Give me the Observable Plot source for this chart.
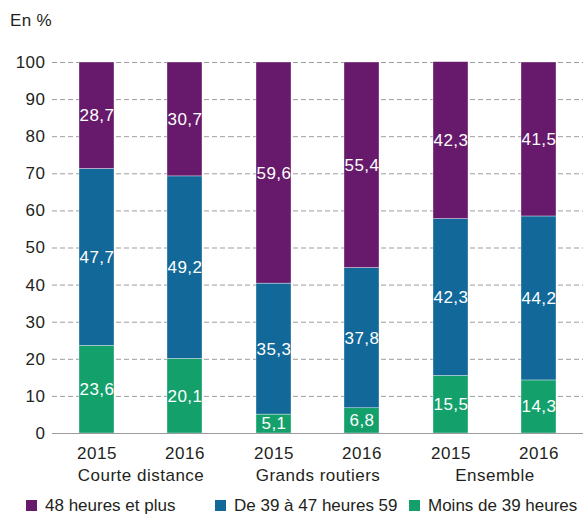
<!DOCTYPE html>
<html><head><meta charset="utf-8">
<script src="https://cdn.jsdelivr.net/npm/d3@7"></script>
<script src="https://cdn.jsdelivr.net/npm/@observablehq/plot@0.6"></script>
<style>
body{margin:0;background:#fff;font-family:"Liberation Sans",Arial,Helvetica,sans-serif;color:#231f20;}
#wrap{position:relative;width:583px;height:516px;overflow:hidden;background:#fff;}
#unit{position:absolute;left:10px;top:11px;font-size:17px;letter-spacing:0.3px;line-height:20px;}
#chart{position:absolute;left:0;top:0;}
#chart svg text{letter-spacing:0.5px;}
#legend{position:absolute;top:496px;left:0;width:583px;height:20px;font-size:17px;line-height:20px;}
.item{position:absolute;top:0;white-space:nowrap;}
.sw{position:absolute;top:4px;left:0;width:11px;height:11px;}
.lbl{position:absolute;top:0;white-space:nowrap;}
</style></head><body>
<div id="wrap"><div id="unit">En %</div><div id="chart"></div><div id="legend"></div></div>
<script>
// ---- data ----
const groups = ["Courte distance", "Grands routiers", "Ensemble"];
const years = ["2015", "2016"];
const series = ["Moins de 39 heures", "De 39 à 47 heures 59", "48 heures et plus"];
const colors = ["#14a06b", "#126898", "#671a6b"];
// values in order: Courte 2015, Courte 2016, Grands 2015, Grands 2016, Ensemble 2015, Ensemble 2016
const moins39 = [23.6, 20.1, 5.1, 6.8, 15.5, 14.3];
const de39a47 = [47.7, 49.2, 35.3, 37.8, 42.3, 44.2];
const plus48 = [28.7, 30.7, 59.6, 55.4, 42.3, 41.5];
const yTicks = [0, 10, 20, 30, 40, 50, 60, 70, 80, 90, 100];
const legendOrder = ["48 heures et plus", "De 39 à 47 heures 59", "Moins de 39 heures"];

// ---- build table ----
const seriesValues = [moins39, de39a47, plus48];
const rows = [];
series.forEach((s, si) => {
  groups.forEach((g, gi) => {
    years.forEach((y, yi) => {
      rows.push({series: s, group: g, year: y, value: seriesValues[si][gi * 2 + yi]});
    });
  });
});

const FONT = '"Liberation Sans", Arial, Helvetica, sans-serif';
const GRAY = "#9d9d9d";
const plot = Plot.plot({
  width: 583,
  height: 490,
  marginTop: 62,
  marginBottom: 57,
  marginLeft: 51,
  marginRight: 0,
  style: {fontFamily: FONT, fontSize: "17px", color: "#231f20", background: "transparent", overflow: "visible"},
  fx: {domain: groups, padding: 0, axis: null, label: null},
  x: {domain: years, paddingInner: 0.6, paddingOuter: 0.3, axis: "bottom", tickSize: 0, tickPadding: 13, label: null},
  y: {domain: [0, 100], ticks: yTicks, tickSize: 0, tickPadding: 7, label: null},
  color: {domain: series, range: colors},
  marks: [
    Plot.ruleY(yTicks.filter(d => d > 0), {stroke: GRAY, strokeDasharray: "5,3", strokeWidth: 1}),
    Plot.barY(rows, Plot.stackY({fx: "group", x: "year", y: "value", fill: "series", stroke: "white", strokeWidth: 0.5, strokeOpacity: 0.7})),
    Plot.text(rows, Plot.stackY({fx: "group", x: "year", y: "value", text: d => d.value.toFixed(1).replace(".", ","), fill: "white", fontSize: 17})),
    Plot.ruleY([0], {stroke: GRAY, strokeWidth: 1}),
    // vertical axis line on the left of the first group
    Plot.ruleX([groups[0]], {fx: d => d, y1: 0, y2: 100, dx: -88.67, stroke: GRAY, strokeWidth: 1}),
    // group separators below the axis
    Plot.ruleX(groups, {fx: d => d, y1: -12.4, y2: 0, dx: -88.67, stroke: GRAY, strokeWidth: 1}),
    Plot.text(groups, {fx: d => d, text: d => d, frameAnchor: "bottom", lineAnchor: "middle", dy: 42, fontSize: 17, fill: "#231f20"})
  ]
});
document.getElementById("chart").appendChild(plot);

// ---- legend ----
const lefts = [26, 215, 409];
const leg = document.getElementById("legend");
legendOrder.forEach((name, i) => {
  const it = document.createElement("div");
  it.className = "item";
  it.style.left = lefts[i] + "px";
  const sw = document.createElement("span");
  sw.className = "sw";
  sw.style.background = colors[series.indexOf(name)];
  const tx = document.createElement("span");
  tx.className = "lbl";
  tx.style.left = "19px";
  tx.textContent = name;
  it.appendChild(sw); it.appendChild(tx);
  leg.appendChild(it);
});
</script>
</body></html>
